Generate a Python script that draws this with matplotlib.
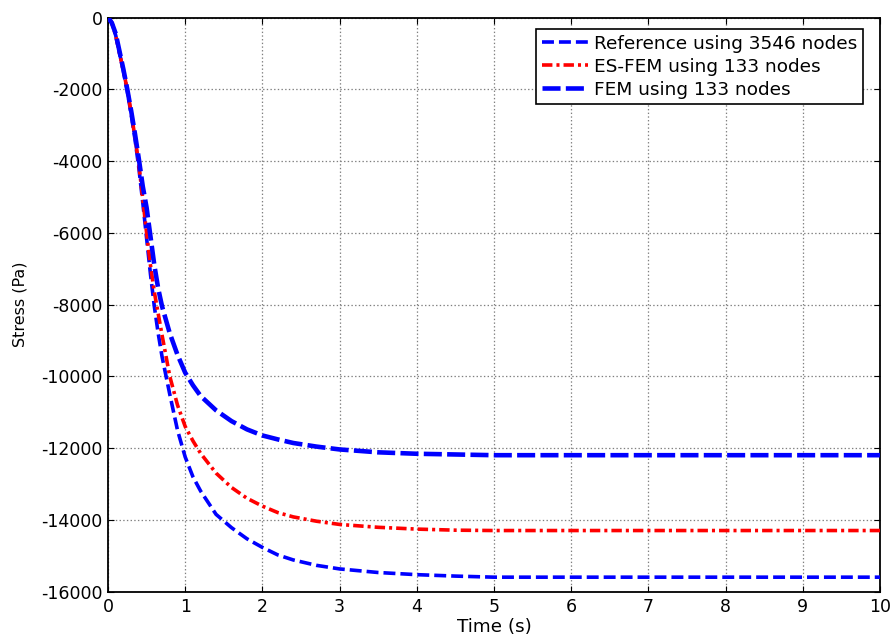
import matplotlib
matplotlib.use("Agg")
import matplotlib.pyplot as plt

plt.rcParams['font.family'] = ['DejaVu Sans']
plt.rcParams['axes.unicode_minus'] = False
plt.rcParams['lines.scale_dashes'] = False

# Time samples (s)
time_s = [0, 0.05, 0.1, 0.15, 0.2, 0.25, 0.3, 0.35, 0.4, 0.45, 0.5, 0.55, 0.6,
          0.65, 0.7, 0.8, 0.9, 1.0, 1.1, 1.2, 1.4, 1.6, 1.8, 2.0, 2.2, 2.4, 2.7,
          3.0, 3.5, 4.0, 4.5, 5.0, 6.0, 7.0, 8.0, 9.0, 10.0]

# Stress (Pa) for each model
stress_reference = [0, -150, -500, -1000, -1500, -2050, -2700, -3400, -4200, -5150,
                    -6150, -7150, -8050, -8800, -9450, -10500, -11500, -12250,
                    -12800, -13200, -13850, -14220, -14530, -14770, -14980, -15120,
                    -15270, -15370, -15470, -15530, -15570, -15600, -15600, -15600,
                    -15600, -15600, -15600]
stress_esfem = [0, -150, -500, -1000, -1500, -2000, -2650, -3350, -4100, -5050,
                -6000, -6900, -7650, -8250, -8850, -10000, -10800, -11400, -11800,
                -12150, -12700, -13100, -13400, -13620, -13800, -13920, -14040,
                -14130, -14210, -14260, -14290, -14300, -14300, -14300, -14300,
                -14300, -14300]
stress_fem = [0, -150, -450, -950, -1450, -2000, -2600, -3250, -3950, -4700,
              -5300, -6100, -6900, -7550, -8050, -8800, -9400, -9900, -10250,
              -10550, -10950, -11250, -11480, -11650, -11760, -11860, -11960,
              -12040, -12120, -12160, -12180, -12200, -12200, -12200, -12200,
              -12200, -12200]

labels = ['Reference using 3546 nodes', 'ES-FEM using 133 nodes', 'FEM using 133 nodes']

x_ticks = list(range(0, 11))
y_ticks = list(range(-16000, 1, 2000))

fig = plt.figure(figsize=(8.94, 6.39), dpi=100)
ax = fig.add_axes([0.1208, 0.0743, 0.8635, 0.8983])

ax.plot(time_s, stress_reference, color='#0000ff', lw=2.6, dashes=(8.6, 3.6),
        label=labels[0], zorder=3)
ax.plot(time_s, stress_esfem, color='#ff0000', lw=2.6, dashes=(7.5, 2.9, 2.2, 2.9),
        label=labels[1], zorder=3)
ax.plot(time_s, stress_fem, color='#0000ff', lw=3.3, dashes=(13.0, 3.8),
        label=labels[2], zorder=3)

ax.set_xlim(0, 10)
ax.set_ylim(-16000, 0)
ax.set_xticks(x_ticks)
ax.set_yticks(y_ticks)
ax.tick_params(direction='in', length=4, width=0.8, top=True, right=True,
               labelsize=12.5, colors='black')
ax.tick_params(axis='x', pad=5)
ax.tick_params(axis='y', pad=4)
ax.grid(True, color='#7f7f7f', linestyle=':', linewidth=0.9)
for s in ax.spines.values():
    s.set_linewidth(1.3)
    s.set_color('black')

ax.set_xlabel('Time (s)', fontsize=13.2, labelpad=1)
ax.set_ylabel('Stress (Pa)', fontsize=11.5, labelpad=10)

leg = ax.legend(loc='upper right', bbox_to_anchor=(0.978, 0.98), borderaxespad=0,
                fontsize=13.3, frameon=True, fancybox=False, framealpha=1,
                edgecolor='black', handlelength=2.5, handletextpad=0.3,
                labelspacing=0.26, borderpad=0.32)
leg.get_frame().set_linewidth(1.2)

fig.savefig('out.png', dpi=100)
